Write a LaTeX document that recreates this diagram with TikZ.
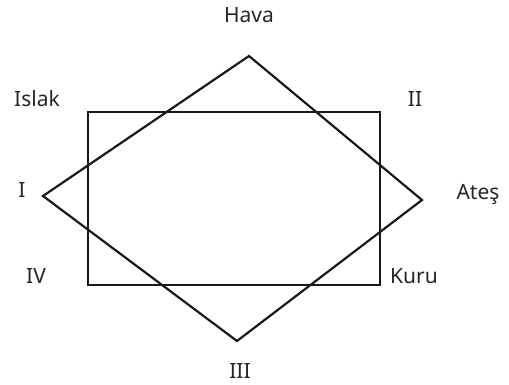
\documentclass[tikz,border=0pt]{standalone}
\usepackage{fontspec}
\setmainfont{Noto Sans}
\begin{document}
\begin{tikzpicture}[x=1pt,y=-1pt,
  shape line/.style={draw=black!90,line width=2.2pt,line join=miter},
  lbl/.style={font=\fontsize{21}{24}\selectfont,inner sep=0pt,anchor=base,text=black!85}]
\useasboundingbox (0,0) rectangle (509,385);
\coordinate (dt) at (249,56);
\coordinate (dl) at (43,196);
\coordinate (dr) at (422,200);
\coordinate (db) at (237,341);
\coordinate (r1) at (88,112);
\coordinate (r2) at (380,285);
\draw[shape line] (r1) rectangle (r2);
\draw[shape line] (dt) -- (dr) -- (db) -- (dl) -- cycle;
\node[lbl] (hava) at (249,23) {Hava};
\node[lbl] (islak) at (37,107) {Islak};
\node[lbl] (ii) at (415,107) {II};
\node[lbl] (i) at (22,197) {I};
\node[lbl] (ates) at (478,200) {Ateş};
\node[lbl] (iv) at (36,283) {IV};
\node[lbl] (kuru) at (414,283) {Kuru};
\node[lbl] (iii) at (240,378) {III};
\end{tikzpicture}
\end{document}
